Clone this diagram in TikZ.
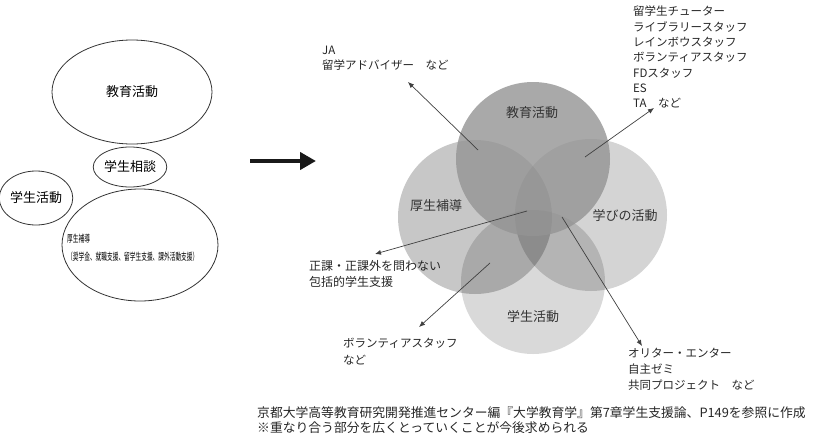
\documentclass[tikz,border=0pt]{standalone}
\usepackage{fontspec}
\setmainfont{Noto Sans CJK JP}
\usetikzlibrary{arrows.meta, shapes.geometric}

\begin{document}
\begin{tikzpicture}[x=1pt, y=-1pt,
    field/.style={ellipse, draw=black!80, line width=0.8pt, inner sep=0pt, font=\fontsize{13}{15}\selectfont},
    venn/.style={font=\fontsize{13}{15}\selectfont, text=black!80},
    note/.style={font=\fontsize{11.5}{15.3}\selectfont, text=black!85, align=left, anchor=north west, inner sep=0pt},
    ptr/.style={-{Latex[length=6pt, width=5pt]}, black!75, line width=0.7pt}]
  \useasboundingbox (0,0) rectangle (818,439);

  % before: separate fields
  \node[field, minimum width=160, minimum height=104] (kyoiku) at (132,92) {教育活動};
  \node[field, minimum width=72, minimum height=40] (soudan) at (130,167) {学生相談};
  \node[field, minimum width=62, minimum height=54] (katsudo) at (36,198) {学生活動};
  \node[field, minimum width=156, minimum height=112] (kousei) at (140,245) {};
  \node[anchor=north west, inner sep=0pt, align=left, font=\fontsize{10}{18}\selectfont] (kouseitxt) at (67,234)
    {\scalebox{0.57}[1]{厚生補導}\\\scalebox{0.57}[1]{（奨学金、就職支援、留学生支援、課外活動支援）}};

  % arrow
  \coordinate (from) at (250,161);
  \coordinate (to) at (316,161);
  \draw[-{Triangle[length=16pt, width=17pt]}, line width=4.5pt, black!90] (from) -- (to);

  % after: overlapping fields
  \fill[black!15] (533,282) circle[radius=72];
  \fill[black, fill opacity=0.22] (475,217) circle[radius=77];
  \fill[black, fill opacity=0.17] (591,215) circle[radius=76];
  \fill[black!42, fill opacity=0.8] (533,159) circle[radius=77];
  \node[venn] (v-kyoiku) at (532,113) {教育活動};
  \node[venn] (v-kousei) at (436,206) {厚生補導};
  \node[venn] (v-manabi) at (625,216) {学びの活動};
  \node[venn] (v-katsudo) at (533,317) {学生活動};

  % staff and programmes
  \node[note] (ja) at (322,46) {JA\\留学アドバイザー　など};
  \node[note] (staff) at (633,6) {留学生チューター\\ライブラリースタッフ\\レインボウスタッフ\\ボランティアスタッフ\\FDスタッフ\\ES\\TA　など};
  \node[note, font=\fontsize{12}{16}\selectfont] (seika) at (309,260) {正課・正課外を問わない\\包括的学生支援};
  \node[note, font=\fontsize{11.5}{17}\selectfont] (volunteer) at (343,338) {ボランティアスタッフ\\など};
  \node[note, font=\fontsize{11.5}{16}\selectfont] (orita) at (628,348) {オリター・エンター\\自主ゼミ\\共同プロジェクト　など};

  \coordinate (p1) at (478,150); \coordinate (q1) at (408,82);
  \coordinate (p2) at (585,157); \coordinate (q2) at (654,108);
  \coordinate (p3) at (527,211); \coordinate (q3) at (375,254);
  \coordinate (p4) at (490,263); \coordinate (q4) at (419,327);
  \coordinate (p5) at (562,217); \coordinate (q5) at (642,346);
  \foreach \i in {1,...,5}
    \draw[ptr] (p\i) -- (q\i);

  % source
  \node[note, font=\fontsize{12.8}{15}\selectfont] (source) at (257,406)
    {京都大学高等教育研究開発推進センター編『大学教育学』第7章学生支援論、P149を参照に作成\\※重なり合う部分を広くとっていくことが今後求められる};
\end{tikzpicture}
\end{document}
